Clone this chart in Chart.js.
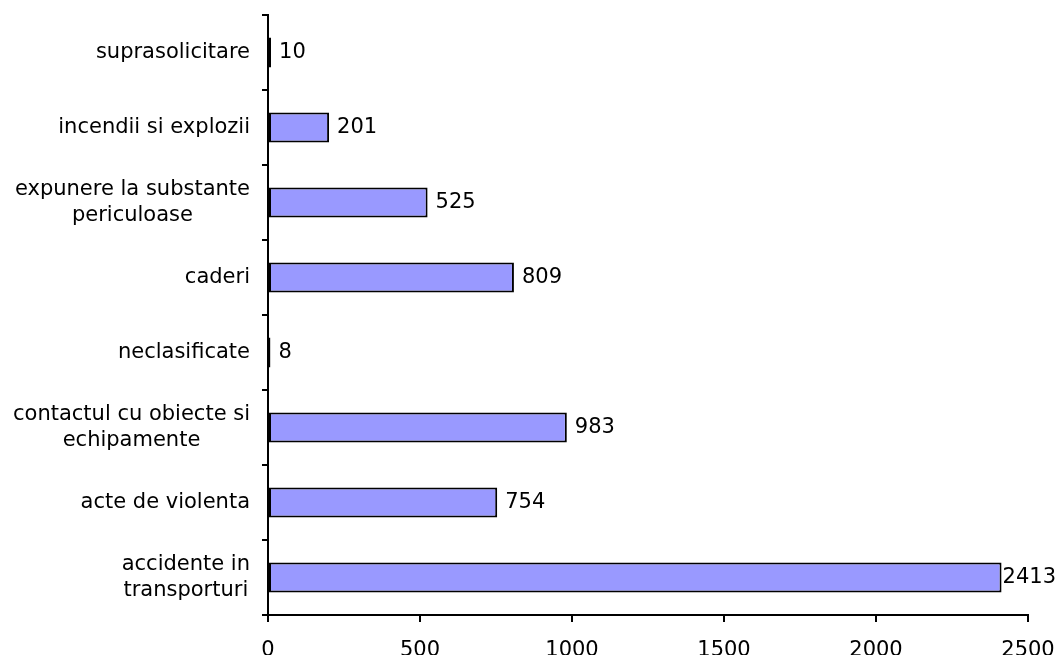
<!DOCTYPE html>
<html>
<head>
<meta charset="utf-8">
<script src="https://cdn.jsdelivr.net/npm/chart.js@4"></script>
<style>
  body { margin: 0; background: #fff; }
</style>
</head>
<body>
<canvas id="myChart" width="1057" height="655"></canvas>
<script>
// categories top to bottom
const categories = [
  ['suprasolicitare'],
  ['incendii si explozii'],
  ['expunere la substante', 'periculoase'],
  ['caderi'],
  ['neclasificate'],
  ['contactul cu obiecte si', 'echipamente'],
  ['acte de violenta'],
  ['accidente in', 'transporturi']
];
const values = [10, 201, 525, 809, 8, 983, 754, 2413];
const xTicks = [0, 500, 1000, 1500, 2000, 2500];

const FONT = '"DejaVu Sans", Verdana, sans-serif';

// category labels: right aligned block, lines centered inside it
const categoryLabels = {
  id: 'categoryLabels',
  afterDraw(chart) {
    const ctx = chart.ctx;
    const yScale = chart.scales.y;
    const right = yScale.right - 18;
    ctx.save();
    ctx.font = '21px ' + FONT;
    ctx.fillStyle = '#000';
    ctx.textAlign = 'center';
    ctx.textBaseline = 'middle';
    categories.forEach((lines, i) => {
      const yc = yScale.getPixelForValue(i);
      const w = Math.max(...lines.map(l => ctx.measureText(l).width));
      const cx = right - w / 2;
      const lh = 26;
      lines.forEach((l, j) => {
        ctx.fillText(l, cx, yc + (j - (lines.length - 1) / 2) * lh);
      });
    });
    ctx.restore();
  }
};

// value labels at the end of each bar
const valueLabels = {
  id: 'valueLabels',
  afterDatasetsDraw(chart) {
    const ctx = chart.ctx;
    const meta = chart.getDatasetMeta(0);
    ctx.save();
    ctx.font = '21px ' + FONT;
    ctx.fillStyle = '#000';
    ctx.textAlign = 'left';
    ctx.textBaseline = 'middle';
    meta.data.forEach((bar, i) => {
      const txt = String(values[i]);
      const w = ctx.measureText(txt).width;
      let x = bar.x + 8;
      if (x + w > chart.width - 1) x = chart.width - 1 - w;
      ctx.fillText(txt, x, bar.y);
    });
    ctx.restore();
  }
};

new Chart(document.getElementById('myChart'), {
  type: 'bar',
  data: {
    labels: categories.map(c => c.join(' ')),
    datasets: [{
      data: values,
      backgroundColor: '#9999ff',
      borderColor: '#000',
      borderWidth: 2,
      borderSkipped: false,
      barPercentage: 0.4,
      categoryPercentage: 1
    }]
  },
  options: {
    indexAxis: 'y',
    responsive: false,
    animation: false,
    layout: { padding: { top: 15, right: 29, left: 0, bottom: 0 } },
    plugins: {
      legend: { display: false },
      tooltip: { enabled: false }
    },
    scales: {
      x: {
        min: 0,
        max: 2500,
        afterFit(scale) {
          scale.height = 40;
          scale.paddingLeft = 0;
          scale.paddingRight = 0;
        },
        afterBuildTicks(scale) { scale.ticks = xTicks.map(v => ({ value: v })); },
        border: { display: true, color: '#000', width: 2 },
        grid: { drawOnChartArea: false, color: '#000', lineWidth: 2, tickLength: 7 },
        ticks: {
          color: '#000',
          font: { family: FONT, size: 21 },
          padding: 16,
          maxRotation: 0,
          callback: v => String(v)
        }
      },
      y: {
        offset: true,
        afterFit(scale) {
          scale.width = 268;
          scale.paddingTop = 0;
          scale.paddingBottom = 0;
        },
        border: { display: true, color: '#000', width: 2 },
        grid: { offset: true, drawOnChartArea: false, color: '#000', lineWidth: 2, tickLength: 6 },
        ticks: { display: false }
      }
    }
  },
  plugins: [categoryLabels, valueLabels]
});
</script>
</body>
</html>
